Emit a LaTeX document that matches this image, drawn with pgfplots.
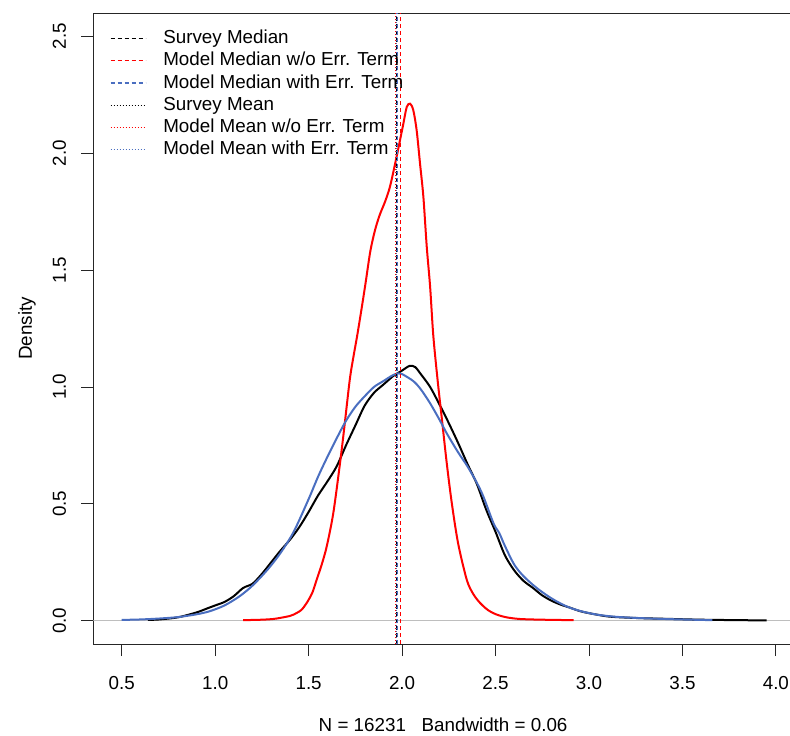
\documentclass[border=0pt]{standalone}
\usepackage{pgfplots}
\pgfplotsset{compat=1.18}
\usepackage{fontspec}
\setmainfont{Liberation Sans}
\definecolor{rblue}{RGB}{74,110,192}
\definecolor{rgray}{RGB}{190,190,190}
\definecolor{rred}{RGB}{255,0,0}
\begin{document}
\begin{tikzpicture}
\begin{axis}[
 scale only axis, width=699.2bp, height=631bp,
 xmin=0.349, xmax=4.09, ymin=-0.1, ymax=2.6,
 axis line style={line width=0.8bp, black!85},
 xtick={0.5,1.0,...,4.0}, ytick={0,0.5,...,2.5},
 xtick pos=bottom, ytick pos=left,
 tick align=outside, major tick length=12bp,
 tick style={line width=0.8bp, black!85},
 font=\fontsize{18.8bp}{22bp}\selectfont,
 /pgf/number format/fixed, /pgf/number format/fixed zerofill,
 /pgf/number format/precision=1, /pgf/number format/assume math mode=true,
 xticklabel style={anchor=center, yshift=-27bp},
 yticklabel style={anchor=center, xshift=-22bp, rotate=90},
 every axis x label/.style={at={(axis description cs:0.5,0)}, yshift=-81bp, anchor=center},
 every axis y label/.style={at={(axis description cs:0,0.5)}, xshift=-66.5bp, rotate=90, anchor=center},
 xlabel={N = 16231\ \ \ Bandwidth = 0.06},
 ylabel={Density},
 legend style={at={(0.0236,0.977)}, anchor=north west, draw=none, fill=none,
   inner sep=0pt, outer sep=0pt, row sep=0pt,
   font=\fontsize{18.8bp}{22bp}\selectfont,
   nodes={inner xsep=0pt, inner ysep=2.6bp, text height=13.5bp, text depth=3.5bp}},
 legend cell align=left,
 legend image code/.code={\draw[#1] (0bp,0bp) -- (35bp,0bp); \path (52bp,0bp);},
]
% zero line
\addplot[draw=rgray, line width=0.9bp, forget plot] coordinates {(0.349,0) (4.09,0)};
% survey density (black)
\addplot[draw=black, line width=2bp, smooth, forget plot] table {
0.64 0.003
0.70 0.005
0.80 0.014
0.90 0.035
0.95 0.050
1.00 0.065
1.05 0.080
1.10 0.105
1.15 0.140
1.20 0.158
1.25 0.200
1.30 0.250
1.35 0.300
1.40 0.346
1.45 0.400
1.50 0.465
1.55 0.535
1.60 0.595
1.65 0.660
1.70 0.750
1.75 0.835
1.80 0.920
1.85 0.975
1.90 1.010
1.95 1.045
1.975 1.058
2.00 1.070
2.04 1.090
2.07 1.085
2.10 1.055
2.15 1.000
2.20 0.925
2.25 0.845
2.30 0.760
2.35 0.670
2.40 0.585
2.45 0.475
2.50 0.380
2.55 0.280
2.60 0.215
2.65 0.170
2.70 0.140
2.75 0.108
2.80 0.085
2.85 0.068
2.90 0.055
2.95 0.041
3.00 0.032
3.10 0.018
3.20 0.013
3.30 0.010
3.45 0.007
3.60 0.004
3.80 0.002
3.95 0.001
};
% model without error term (red)
\addplot[draw=rred, line width=2bp, smooth, forget plot] table {
1.15 0.002
1.25 0.004
1.31 0.007
1.35 0.012
1.40 0.020
1.42 0.026
1.46 0.045
1.49 0.076
1.52 0.120
1.543 0.175
1.57 0.240
1.597 0.318
1.632 0.460
1.668 0.674
1.690 0.820
1.72 1.030
1.74 1.130
1.76 1.220
1.785 1.343
1.807 1.457
1.83 1.580
1.855 1.670
1.88 1.735
1.91 1.795
1.935 1.856
1.963 1.956
1.985 2.040
2.007 2.127
2.025 2.198
2.043 2.212
2.06 2.184
2.078 2.098
2.096 1.956
2.114 1.813
2.132 1.600
2.15 1.429
2.167 1.220
2.19 1.030
2.212 0.870
2.239 0.674
2.266 0.503
2.30 0.330
2.346 0.175
2.38 0.115
2.417 0.076
2.46 0.045
2.506 0.026
2.56 0.014
2.631 0.007
2.75 0.004
2.918 0.002
};
% model with error term (blue)
\addplot[draw=rblue, line width=2bp, smooth, forget plot] table {
0.50 0.003
0.60 0.005
0.70 0.009
0.80 0.015
0.90 0.027
0.97 0.040
1.05 0.065
1.13 0.104
1.20 0.150
1.28 0.218
1.35 0.290
1.42 0.380
1.50 0.520
1.55 0.615
1.60 0.700
1.65 0.780
1.70 0.855
1.75 0.915
1.80 0.960
1.85 1.000
1.90 1.025
1.95 1.050
1.98 1.058
2.00 1.055
2.06 1.025
2.10 0.990
2.15 0.930
2.20 0.860
2.24 0.800
2.30 0.720
2.35 0.660
2.40 0.590
2.435 0.531
2.49 0.415
2.52 0.375
2.55 0.320
2.60 0.240
2.65 0.190
2.72 0.140
2.80 0.095
2.88 0.061
2.95 0.042
3.04 0.026
3.15 0.016
3.30 0.010
3.45 0.006
3.66 0.002
};
% vertical reference lines
\addplot[draw=black, line width=1.1bp, dash pattern=on 4bp off 3bp] coordinates {(1.970,-0.1) (1.970,2.6)};
\addlegendentry{Survey Median}
\addplot[draw=rred, line width=1.1bp, dash pattern=on 4bp off 3bp] coordinates {(1.990,-0.1) (1.990,2.6)};
\addlegendentry{Model Median w/o Err. Term}
\addplot[draw=rblue, line width=1.1bp, dash pattern=on 4bp off 3bp] coordinates {(1.974,-0.1) (1.974,2.6)};
\addlegendentry{Model Median with Err. Term}
\addplot[draw=black, line width=1.3bp, dash pattern=on 1.5bp off 1.5bp] coordinates {(1.966,-0.1) (1.966,2.6)};
\addlegendentry{Survey Mean}
\addplot[draw=rred, line width=1.3bp, dash pattern=on 1.5bp off 1.5bp] coordinates {(1.968,-0.1) (1.968,2.6)};
\addlegendentry{Model Mean w/o Err. Term}
\addplot[draw=rblue, line width=1.3bp, dash pattern=on 1.5bp off 1.5bp] coordinates {(1.972,-0.1) (1.972,2.6)};
\addlegendentry{Model Mean with Err. Term}
\end{axis}
\pgfresetboundingbox
\path[use as bounding box] ([xshift=-93.5bp,yshift=-92bp]current axis.south west) rectangle ++(790bp,736bp);
\end{tikzpicture}
\end{document}
